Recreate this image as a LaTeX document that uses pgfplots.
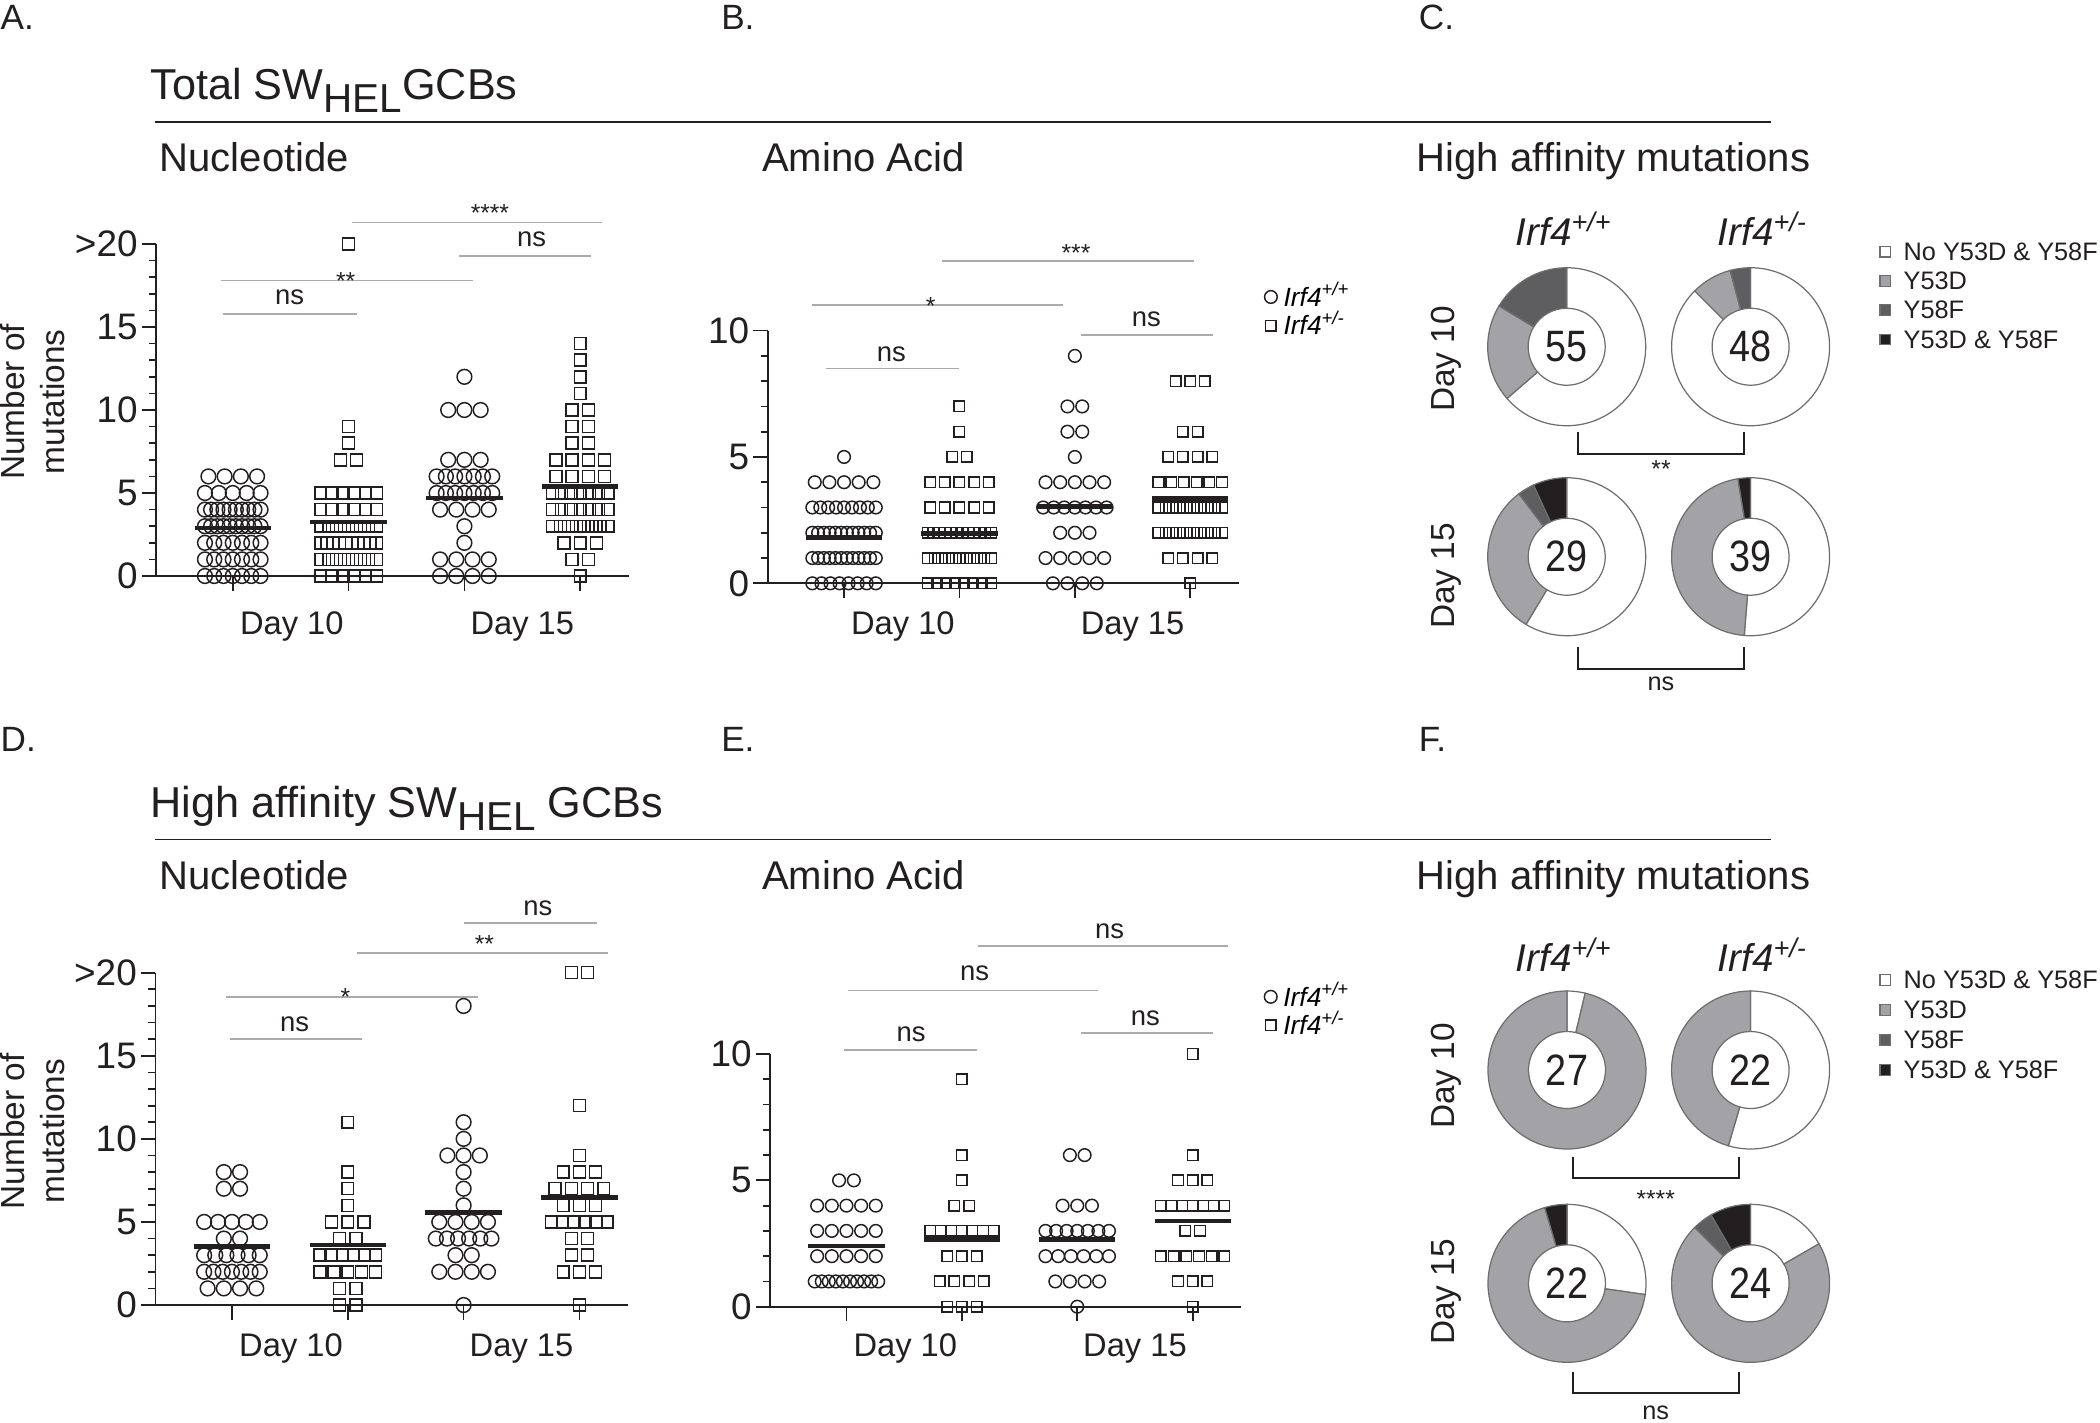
\documentclass[border=0pt]{standalone}
\usepackage{fontspec}
\setmainfont{Liberation Sans}
\usepackage{pgfplots}
\pgfplotsset{compat=1.18}

\definecolor{ink}{HTML}{231F20}
\definecolor{sig}{HTML}{ABABAB}
\definecolor{lg}{HTML}{A2A2A7}
\definecolor{dg}{HTML}{5E5E60}
\definecolor{rim}{HTML}{6E6E6E}

\newcommand\fs[2]{\fontsize{#1}{#2}\selectfont}
\newcommand\nsf{\fs{7.8}{9}}
\newcommand\stf{\fs{7}{8}}

\pgfplotsset{
  dot/.style={
    scale only axis, clip=false, axis lines=left,
    axis line style={-, line width=0.5pt, draw=ink},
    tick style={line width=0.5pt, draw=ink},
    tick align=outside, major tick length=0.145cm, minor tick length=0.073cm,
    xmin=0.34, xmax=4.42, ymin=0,
    xtick={1,2,3,4}, xticklabels={,,,},
    minor y tick num=4,
    yticklabel style={font=\fs{10.5}{12}, text=ink, inner sep=1pt},
    legend style={draw=none, fill=none, inner sep=0pt, font=\fs{7.5}{8},
      cells={anchor=west}, row sep=-0.8pt, column sep=1.5pt, nodes={inner sep=0.3pt}},
    legend image code/.code={\draw[##1] plot coordinates {(0cm,0cm)};},
  },
  cA/.style={only marks, mark=o, mark size=2.1pt, color=ink, mark options={line width=0.42pt}},
  sA/.style={only marks, mark=square, mark size=1.7pt, color=ink, mark options={line width=0.42pt}},
  cB/.style={only marks, mark=o, mark size=1.8pt, color=ink, mark options={line width=0.42pt}},
  sB/.style={only marks, mark=square, mark size=1.5pt, color=ink, mark options={line width=0.42pt}},
  mean/.style={no marks, line width=1.3pt, color=ink, forget plot},
  donutax/.style={hide axis, scale only axis, clip=false, anchor=south west, y dir=reverse},
}

% significance bar: x1 x2 y labelx labelbase label
\newcommand\sig[6]{%
  \draw[sig, line width=0.5pt] (axis cs:#1,#3) -- (axis cs:#2,#3);
  \node[anchor=base, inner sep=0pt, text=ink] at (axis cs:#4,#5) {#6};}
\newcommand\days[1]{%
  \node[anchor=base, font=\fs{9.3}{11}, text=ink, yshift=#1] at (axis cs:1.51,0) {Day 10};
  \node[anchor=base, font=\fs{9.3}{11}, text=ink, yshift=#1] at (axis cs:3.50,0) {Day 15};}

% ring segment: cx cy angle1 angle2 colour
\newcommand\ring[5]{%
  \filldraw[fill=#5, draw=rim, line width=0.35pt] (axis cs:#1,#2) ++({#3}:0.79cm)
    arc[start angle={#3}, end angle={#4}, radius=0.79cm] -- ++({#4+180}:0.405cm)
    arc[start angle={#4}, end angle={#3}, radius=0.385cm] -- cycle;}
% donut: cx cy none y53d y58f both n
\newcommand\donut[7]{%
  \ifnum#3>0 \ring{#1}{#2}{90}{90-360/#7*#3}{white}\fi
  \ifnum#4>0 \ring{#1}{#2}{90-360/#7*#3}{90-360/#7*(#3+#4)}{lg}\fi
  \ifnum#5>0 \ring{#1}{#2}{90-360/#7*(#3+#4)}{90-360/#7*(#3+#4+#5)}{dg}\fi
  \ifnum#6>0 \ring{#1}{#2}{90-360/#7*(#3+#4+#5)}{-270}{ink}\fi
  \node[font=\fs{12.5}{14}, text=ink, inner sep=0pt] at (axis cs:#1,#2) {\scalebox{0.86}[1]{#7}};}
\newcommand\bracket[4]{% x1 x2 ytop ybottom
  \draw[ink, line width=0.55pt] (axis cs:#1,#3) -- (axis cs:#1,#4) -- (axis cs:#2,#4) -- (axis cs:#2,#3);}
\newcommand\key[3]{% y colour text
  \filldraw[fill=#2, draw=rim, line width=0.35pt] (axis cs:1880,#1-5.2) rectangle (axis cs:1890.4,#1+5.2);
  \node[anchor=west, inner sep=0pt, font=\fs{7.2}{8.5}, text=ink] at (axis cs:1903,#1) {#3};}
\newcommand\geno[1]{\textit{Irf4}\textsuperscript{\textit{#1}}}

\begin{document}
\begin{tikzpicture}
\path[use as bounding box] (0,0) rectangle (21cm,-14.22cm);

% ---------------- A ----------------
\begin{axis}[dot, at={(1.563cm,-5.76cm)}, width=4.726cm, height=3.32cm,
  ymax=20, ytick={0,5,10,15,20}, yticklabels={0,5,10,15,>20}]
\addplot[cA] coordinates {(0.79,6)(0.93,6)(1.07,6)(1.21,6)
 (0.76,5)(0.88,5)(1,5)(1.12,5)(1.24,5)
 (0.76,4)(0.813,4)(0.867,4)(0.92,4)(0.973,4)(1.027,4)(1.08,4)(1.133,4)(1.187,4)(1.24,4)
 (0.76,3)(0.813,3)(0.867,3)(0.92,3)(0.973,3)(1.027,3)(1.08,3)(1.133,3)(1.187,3)(1.24,3)
 (0.76,2)(0.84,2)(0.92,2)(1,2)(1.08,2)(1.16,2)(1.24,2)
 (0.76,1)(0.84,1)(0.92,1)(1,1)(1.08,1)(1.16,1)(1.24,1)
 (0.76,0)(0.84,0)(0.92,0)(1,0)(1.08,0)(1.16,0)(1.24,0)};
\addplot[sA] coordinates {(2,20)(2,9)(2,8)(1.93,7)(2.07,7)
 (1.76,5)(1.856,5)(1.952,5)(2.048,5)(2.144,5)(2.24,5)
 (1.76,4)(1.856,4)(1.952,4)(2.048,4)(2.144,4)(2.24,4)
 (1.76,3)(1.829,3)(1.897,3)(1.966,3)(2.034,3)(2.103,3)(2.171,3)(2.24,3)
 (1.76,2)(1.813,2)(1.867,2)(1.92,2)(1.973,2)(2.027,2)(2.08,2)(2.133,2)(2.187,2)(2.24,2)
 (1.76,1)(1.829,1)(1.897,1)(1.966,1)(2.034,1)(2.103,1)(2.171,1)(2.24,1)
 (1.76,0)(1.856,0)(1.952,0)(2.048,0)(2.144,0)(2.24,0)};
\addplot[cA] coordinates {(3,12)(2.86,10)(3,10)(3.14,10)(2.86,7)(3,7)(3.14,7)
 (2.76,6)(2.84,6)(2.92,6)(3,6)(3.08,6)(3.16,6)(3.24,6)
 (2.76,5)(2.84,5)(2.92,5)(3,5)(3.08,5)(3.16,5)(3.24,5)
 (2.79,4)(2.93,4)(3.07,4)(3.21,4)(3,3)(3,2)
 (2.79,1)(2.93,1)(3.07,1)(3.21,1)
 (2.79,0)(2.93,0)(3.07,0)(3.21,0)};
\addplot[sA] coordinates {(4,14)(4,13)(4,12)(4,11)(3.93,10)(4.07,10)(3.93,9)(4.07,9)(3.93,8)(4.07,8)
 (3.79,7)(3.93,7)(4.07,7)(4.21,7)(3.79,6)(3.93,6)(4.07,6)(4.21,6)
 (3.76,5)(3.84,5)(3.92,5)(4,5)(4.08,5)(4.16,5)(4.24,5)
 (3.76,4)(3.84,4)(3.92,4)(4,4)(4.08,4)(4.16,4)(4.24,4)
 (3.76,3)(3.829,3)(3.897,3)(3.966,3)(4.034,3)(4.103,3)(4.171,3)(4.24,3)
 (3.86,2)(4,2)(4.14,2)(3.93,1)(4.07,1)(4,0)};
\addplot[mean] coordinates {(0.67,2.9)(1.33,2.9)};
\addplot[mean] coordinates {(1.67,3.25)(2.33,3.25)};
\addplot[mean] coordinates {(2.67,4.7)(3.33,4.7)};
\addplot[mean] coordinates {(3.67,5.4)(4.33,5.4)};
\sig{0.92}{2.07}{15.8}{1.49}{16.33}{\nsf ns}
\sig{0.90}{3.07}{17.8}{1.975}{17.23}{\stf **}
\sig{2.95}{4.09}{19.3}{3.58}{19.84}{\nsf ns}
\sig{2.03}{4.19}{21.3}{3.22}{21.36}{\stf ****}
\days{-0.58cm}
\end{axis}

% ---------------- B ----------------
\begin{axis}[dot, at={(7.679cm,-5.833cm)}, width=4.708cm, height=2.527cm,
  ymax=10, ytick={0,5,10}, yticklabels={0,5,10},
  legend style={at={(1.0535,1.0766)}, anchor=west}]
\addplot[cB] coordinates {(1,5)
 (0.746,4)(0.873,4)(1,4)(1.127,4)(1.254,4)
 (0.725,3)(0.794,3)(0.862,3)(0.931,3)(1,3)(1.069,3)(1.138,3)(1.206,3)(1.275,3)
 (0.725,2)(0.775,2)(0.825,2)(0.875,2)(0.925,2)(0.975,2)(1.025,2)(1.075,2)(1.125,2)(1.175,2)(1.225,2)(1.275,2)
 (0.725,1)(0.775,1)(0.825,1)(0.875,1)(0.925,1)(0.975,1)(1.025,1)(1.075,1)(1.125,1)(1.175,1)(1.225,1)(1.275,1)
 (0.725,0)(0.804,0)(0.882,0)(0.961,0)(1.039,0)(1.118,0)(1.196,0)(1.275,0)};
\addlegendentry{\geno{+/+}}
\addplot[sB] coordinates {(2,7)(2,6)(1.936,5)(2.064,5)
 (1.746,4)(1.873,4)(2,4)(2.127,4)(2.254,4)
 (1.746,3)(1.873,3)(2,3)(2.127,3)(2.254,3)
 (1.725,2)(1.775,2)(1.825,2)(1.875,2)(1.925,2)(1.975,2)(2.025,2)(2.075,2)(2.125,2)(2.175,2)(2.225,2)(2.275,2)
 (1.725,1)(1.786,1)(1.847,1)(1.908,1)(1.969,1)(2.031,1)(2.092,1)(2.153,1)(2.214,1)(2.275,1)
 (1.725,0)(1.804,0)(1.882,0)(1.961,0)(2.039,0)(2.118,0)(2.196,0)(2.275,0)};
\addlegendentry{\geno{+/-}}
\addplot[cB, forget plot] coordinates {(3,9)(2.936,7)(3.064,7)(2.936,6)(3.064,6)(3,5)
 (2.746,4)(2.873,4)(3,4)(3.127,4)(3.254,4)
 (2.725,3)(2.817,3)(2.908,3)(3,3)(3.092,3)(3.183,3)(3.275,3)
 (2.873,2)(3,2)(3.127,2)
 (2.746,1)(2.873,1)(3,1)(3.127,1)(3.254,1)
 (2.81,0)(2.936,0)(3.064,0)(3.19,0)};
\addplot[sB, forget plot] coordinates {(3.873,8)(4,8)(4.127,8)(3.936,6)(4.064,6)
 (3.81,5)(3.936,5)(4.064,5)(4.19,5)
 (3.725,4)(3.835,4)(3.945,4)(4.055,4)(4.165,4)(4.275,4)
 (3.725,3)(3.786,3)(3.847,3)(3.908,3)(3.969,3)(4.031,3)(4.092,3)(4.153,3)(4.214,3)(4.275,3)
 (3.725,2)(3.786,2)(3.847,2)(3.908,2)(3.969,2)(4.031,2)(4.092,2)(4.153,2)(4.214,2)(4.275,2)
 (3.81,1)(3.936,1)(4.064,1)(4.19,1)(4,0)};
\addplot[mean] coordinates {(0.67,1.81)(1.33,1.81)};
\addplot[mean] coordinates {(1.67,1.98)(2.33,1.98)};
\addplot[mean] coordinates {(2.67,3.03)(3.33,3.03)};
\addplot[mean] coordinates {(3.67,3.36)(4.33,3.36)};
\sig{0.84}{2.0}{8.5}{1.41}{8.77}{\nsf ns}
\sig{0.72}{2.9}{11.0}{1.75}{10.64}{\stf *}
\sig{3.05}{4.2}{9.84}{3.62}{10.16}{\nsf ns}
\sig{1.85}{4.03}{12.75}{3.01}{12.75}{\stf ***}
\days{-0.507cm}
\end{axis}

% ---------------- D ----------------
\begin{axis}[dot, at={(1.555cm,-13.05cm)}, width=4.726cm, height=3.323cm,
  ymax=20, ytick={0,5,10,15,20}, yticklabels={0,5,10,15,>20}]
\addplot[cA] coordinates {(0.93,8)(1.07,8)(0.93,7)(1.07,7)
 (0.76,5)(0.88,5)(1,5)(1.12,5)(1.24,5)
 (0.93,4)(1.07,4)
 (0.76,3)(0.856,3)(0.952,3)(1.048,3)(1.144,3)(1.24,3)
 (0.76,2)(0.84,2)(0.92,2)(1,2)(1.08,2)(1.16,2)(1.24,2)
 (0.79,1)(0.93,1)(1.07,1)(1.21,1)};
\addplot[sA] coordinates {(2,11)(2,8)(2,7)(2,6)
 (1.86,5)(2,5)(2.14,5)(1.93,4)(2.07,4)
 (1.76,3)(1.856,3)(1.952,3)(2.048,3)(2.144,3)(2.24,3)
 (1.76,2)(1.88,2)(2,2)(2.12,2)(2.24,2)
 (1.93,1)(2.07,1)(1.93,0)(2.07,0)};
\addplot[cA] coordinates {(3,18)(3,11)(3,10)(2.86,9)(3,9)(3.14,9)(3,8)(3,7)(3,6)
 (2.79,5)(2.93,5)(3.07,5)(3.21,5)
 (2.76,4)(2.856,4)(2.952,4)(3.048,4)(3.144,4)(3.24,4)
 (2.93,3)(3.07,3)(2.79,2)(2.93,2)(3.07,2)(3.21,2)(3,0)};
\addplot[sA] coordinates {(3.93,20)(4.07,20)(4,12)(4,9)
 (3.86,8)(4,8)(4.14,8)(3.79,7)(3.93,7)(4.07,7)(4.21,7)
 (3.86,6)(4,6)(4.14,6)
 (3.76,5)(3.856,5)(3.952,5)(4.048,5)(4.144,5)(4.24,5)
 (3.93,4)(4.07,4)(3.93,3)(4.07,3)(3.86,2)(4,2)(4.14,2)(4,0)};
\addplot[mean] coordinates {(0.67,3.51)(1.33,3.51)};
\addplot[mean] coordinates {(1.67,3.61)(2.33,3.61)};
\addplot[mean] coordinates {(2.67,5.56)(3.33,5.56)};
\addplot[mean] coordinates {(3.67,6.46)(4.33,6.46)};
\sig{0.98}{2.12}{16.0}{1.54}{16.45}{\nsf ns}
\sig{0.95}{3.12}{18.56}{1.98}{18.02}{\stf *}
\sig{2.08}{4.25}{21.2}{3.18}{21.23}{\stf **}
\sig{3.0}{4.15}{22.97}{3.64}{23.47}{\nsf ns}
\days{-0.517cm}
\end{axis}

% ---------------- E ----------------
\begin{axis}[dot, at={(7.703cm,-13.067cm)}, width=4.708cm, height=2.527cm,
  ymax=10, ytick={0,5,10}, yticklabels={0,5,10},
  legend style={at={(1.048,1.170)}, anchor=west}]
\addplot[cB] coordinates {(0.936,5)(1.064,5)
 (0.746,4)(0.873,4)(1,4)(1.127,4)(1.254,4)
 (0.746,3)(0.873,3)(1,3)(1.127,3)(1.254,3)
 (0.746,2)(0.873,2)(1,2)(1.127,2)(1.254,2)
 (0.725,1)(0.786,1)(0.847,1)(0.908,1)(0.969,1)(1.031,1)(1.092,1)(1.153,1)(1.214,1)(1.275,1)};
\addlegendentry{\geno{+/+}}
\addplot[sB] coordinates {(2,9)(2,6)(2,5)(1.936,4)(2.064,4)
 (1.725,3)(1.817,3)(1.908,3)(2,3)(2.092,3)(2.183,3)(2.275,3)
 (1.873,2)(2,2)(2.127,2)
 (1.81,1)(1.936,1)(2.064,1)(2.19,1)
 (1.873,0)(2,0)(2.127,0)};
\addlegendentry{\geno{+/-}}
\addplot[cB, forget plot] coordinates {(2.936,6)(3.064,6)
 (2.873,4)(3,4)(3.127,4)
 (2.725,3)(2.817,3)(2.908,3)(3,3)(3.092,3)(3.183,3)(3.275,3)
 (2.725,2)(2.835,2)(2.945,2)(3.055,2)(3.165,2)(3.275,2)
 (2.81,1)(2.936,1)(3.064,1)(3.19,1)(3,0)};
\addplot[sB, forget plot] coordinates {(4,10)(4,6)(3.873,5)(4,5)(4.127,5)
 (3.725,4)(3.817,4)(3.908,4)(4,4)(4.092,4)(4.183,4)(4.275,4)
 (3.936,3)(4.064,3)
 (3.725,2)(3.835,2)(3.945,2)(4.055,2)(4.165,2)(4.275,2)
 (3.873,1)(4,1)(4.127,1)(4,0)};
\addplot[mean] coordinates {(0.67,2.4)(1.33,2.4)};
\addplot[mean] coordinates {(1.67,2.66)(2.33,2.66)};
\addplot[mean] coordinates {(2.67,2.66)(3.33,2.66)};
\addplot[mean] coordinates {(3.67,3.39)(4.33,3.39)};
\sig{0.98}{2.13}{10.16}{1.56}{10.49}{\nsf ns}
\sig{1.01}{3.18}{12.51}{2.11}{12.89}{\nsf ns}
\sig{3.03}{4.18}{10.82}{3.59}{11.11}{\nsf ns}
\sig{2.14}{4.31}{14.27}{3.28}{14.58}{\nsf ns}
\days{-0.50cm}
\end{axis}

% ---------------- C ----------------
\begin{axis}[donutax, at={(14.19cm,-7.0cm)}, width=6.81cm, height=5.7cm,
  xmin=1419, xmax=2100, ymin=130, ymax=700]
\donut{1566.7}{346.7}{35}{11}{9}{0}{55}
\donut{1750.6}{346.7}{42}{4}{2}{0}{48}
\donut{1566.7}{556.7}{17}{9}{1}{2}{29}
\donut{1750.6}{556.7}{20}{18}{0}{1}{39}
\bracket{1578}{1744}{431.7}{454}
\bracket{1578}{1744}{646.7}{669.3}
\node[anchor=base, inner sep=0pt, font=\stf, text=ink] at (axis cs:1661,477) {**};
\node[anchor=base, inner sep=0pt, font=\fs{7.2}{8}, text=ink] at (axis cs:1661,690) {ns};
\node[anchor=base west, inner sep=0pt, font=\fs{11}{13}, text=ink] at (axis cs:1515,245) {\geno{+/+}};
\node[anchor=base west, inner sep=0pt, font=\fs{11}{13}, text=ink] at (axis cs:1717,245) {\geno{+/-}};
\node[anchor=base, rotate=90, inner sep=0pt, font=\fs{9.5}{11}, text=ink] at (axis cs:1454.5,359) {Day 10};
\node[anchor=base, rotate=90, inner sep=0pt, font=\fs{9.5}{11}, text=ink] at (axis cs:1454.5,576) {Day 15};
\key{251.7}{white}{No Y53D \& Y58F}
\key{281}{lg}{Y53D}
\key{310}{dg}{Y58F}
\key{339.3}{ink}{Y53D \& Y58F}
\end{axis}

% ---------------- F ----------------
\begin{axis}[donutax, at={(14.19cm,-14.22cm)}, width=6.81cm, height=5.22cm,
  xmin=1419, xmax=2100, ymin=900, ymax=1422]
\donut{1567}{1070}{1}{26}{0}{0}{27}
\donut{1750.6}{1070}{12}{10}{0}{0}{22}
\donut{1567}{1283.3}{6}{15}{0}{1}{22}
\donut{1750.6}{1283.3}{4}{17}{1}{2}{24}
\bracket{1572.7}{1738.7}{1156.7}{1178.3}
\bracket{1572.7}{1738.7}{1371.7}{1393.3}
\node[anchor=base, inner sep=0pt, font=\stf, text=ink] at (axis cs:1655.7,1207) {****};
\node[anchor=base, inner sep=0pt, font=\fs{7.2}{8}, text=ink] at (axis cs:1655.7,1419) {ns};
\node[anchor=base west, inner sep=0pt, font=\fs{11}{13}, text=ink] at (axis cs:1515,971.7) {\geno{+/+}};
\node[anchor=base west, inner sep=0pt, font=\fs{11}{13}, text=ink] at (axis cs:1717,971.7) {\geno{+/-}};
\node[anchor=base, rotate=90, inner sep=0pt, font=\fs{9.5}{11}, text=ink] at (axis cs:1454.5,1076) {Day 10};
\node[anchor=base, rotate=90, inner sep=0pt, font=\fs{9.5}{11}, text=ink] at (axis cs:1454.5,1292) {Day 15};
\key{980}{white}{No Y53D \& Y58F}
\key{1010}{lg}{Y53D}
\key{1040}{dg}{Y58F}
\key{1070}{ink}{Y53D \& Y58F}
\end{axis}

% ---------------- titles and labels ----------------
\begin{scope}[x=0.01cm, y=-0.01cm, every node/.style={inner sep=0pt, text=ink}]
\node[anchor=base west, font=\fs{10}{12}] at (0,30) {A.};
\node[anchor=base west, font=\fs{10}{12}] at (721,30) {B.};
\node[anchor=base west, font=\fs{10}{12}] at (1419,30) {C.};
\node[anchor=base west, font=\fs{10}{12}] at (0,752) {D.};
\node[anchor=base west, font=\fs{10}{12}] at (721,752) {E.};
\node[anchor=base west, font=\fs{10}{12}] at (1419,752) {F.};
\node[anchor=base west, font=\fs{12.3}{14}] at (150,100) {Total SW\raisebox{-3.6pt}{\fs{11.5}{13}HEL}GCBs};
\node[anchor=base west, font=\fs{12.3}{14}] at (150,818) {High affinity SW\raisebox{-3.6pt}{\fs{11.5}{13}HEL} GCBs};
\draw[ink, line width=0.5pt] (155,122) -- (1772,122);
\draw[ink, line width=0.5pt] (155,840) -- (1772,840);
\node[anchor=base west, font=\fs{11.4}{13}] at (159,172) {Nucleotide};
\node[anchor=base west, font=\fs{11.4}{13}] at (762,172) {Amino Acid};
\node[anchor=base west, font=\fs{11.4}{13}] at (1417,172) {High affinity mutations};
\node[anchor=base west, font=\fs{11.4}{13}] at (159,890) {Nucleotide};
\node[anchor=base west, font=\fs{11.4}{13}] at (762,890) {Amino Acid};
\node[anchor=base west, font=\fs{11.4}{13}] at (1417,890) {High affinity mutations};
\node[rotate=90, align=center, font=\fs{9.5}{11.5}] at (32.4,402) {Number of\\mutations};
\node[rotate=90, align=center, font=\fs{9.5}{11.5}] at (32.4,1132) {Number of\\mutations};
\end{scope}
\end{tikzpicture}
\end{document}
